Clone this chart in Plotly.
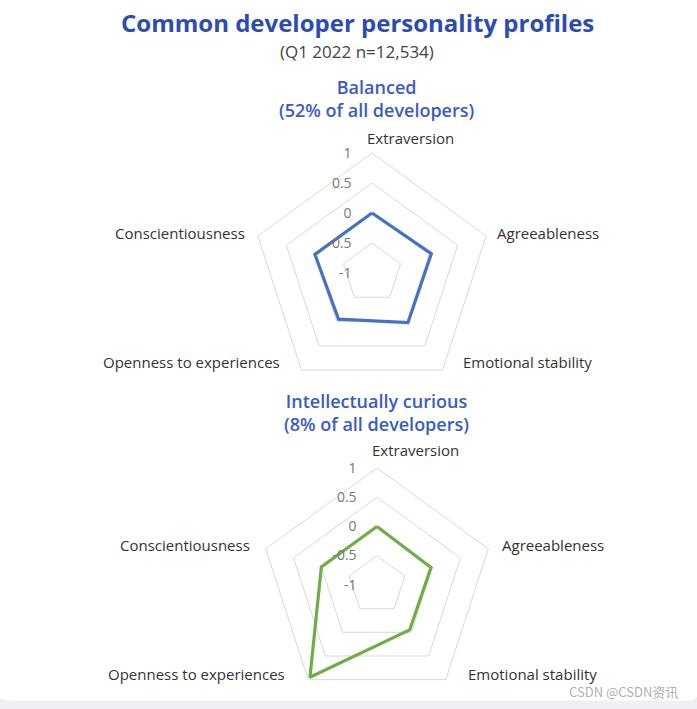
import plotly.graph_objects as go

categories = ["Extraversion", "Agreeableness", "Emotional stability",
              "Openness to experiences", "Conscientiousness"]
balanced = [0.0, 0.04, 0.02, -0.05, 0.0]
curious = [0.0, -0.03, -0.05, 0.95, 0.0]
radial_ticks = [-1, -0.5, 0, 0.5, 1]
radial_ticktext = ["-1", "-0.5", "0", "0.5", "1"]

W, H = 697, 709
FONT = "Open Sans"

fig = go.Figure()
fig.add_trace(go.Scatterpolar(
    r=balanced + balanced[:1], theta=categories + categories[:1],
    mode="lines", line=dict(color="#4472C4", width=3.2),
    subplot="polar", showlegend=False, hoverinfo="skip"))
fig.add_trace(go.Scatterpolar(
    r=curious + curious[:1], theta=categories + categories[:1],
    mode="lines", line=dict(color="#70AD47", width=3.2),
    subplot="polar2", showlegend=False, hoverinfo="skip"))


def polar_cfg(cx, cy, R):
    return dict(
        domain=dict(x=[(cx - R) / W, (cx + R) / W],
                    y=[(H - cy - R) / H, (H - cy + R) / H]),
        bgcolor="rgba(0,0,0,0)",
        gridshape="linear",
        radialaxis=dict(range=[-1, 1], tickvals=radial_ticks, ticktext=radial_ticktext,
                        angle=90, tickangle=90, side="counterclockwise",
                        showline=False, ticks="outside", ticklen=15,
                        tickcolor="rgba(0,0,0,0)",
                        gridcolor="#d9d9d9", gridwidth=1,
                        tickfont=dict(family=FONT, size=14, color="#7a7570")),
        angularaxis=dict(direction="clockwise", rotation=90, showgrid=False,
                         showline=True, linecolor="#d9d9d9", linewidth=1, ticks="",
                         showticklabels=False,
                         categoryorder="array", categoryarray=categories),
    )


# label placement relative to each radar's centre (pixels): dx, dy, anchor
label_offsets = [(-7, -135, "left"), (123, -40, "left"), (89, 89, "left"),
                 (-90, 89, "right"), (-125, -40, "right")]

annotations = [
    dict(text="<b>Common developer personality profiles</b>", x=357 / W, y=1 - 23 / H,
         xref="paper", yref="paper", showarrow=False, xanchor="center", yanchor="middle",
         font=dict(family=FONT, size=24, color="#2B4BB5")),
    dict(text="(Q1 2022 n=12,534)", x=357 / W, y=1 - 51 / H,
         xref="paper", yref="paper", showarrow=False, xanchor="center", yanchor="middle",
         font=dict(family=FONT, size=17, color="#444444")),
    dict(text="Balanced<br>(52% of all developers)", x=376 / W, y=1 - 98.5 / H,
         xref="paper", yref="paper", showarrow=False, xanchor="center", yanchor="middle",
         font=dict(family=FONT, size=18, color="#3A5BC7", weight=600)),
    dict(text="Intellectually curious<br>(8% of all developers)", x=376 / W, y=1 - 412.5 / H,
         xref="paper", yref="paper", showarrow=False, xanchor="center", yanchor="middle",
         font=dict(family=FONT, size=18, color="#3A5BC7", weight=600)),
    dict(text="CSDN @CSDN资讯", x=680 / W, y=1 - 691 / H,
         xref="paper", yref="paper", showarrow=False, xanchor="right", yanchor="middle",
         font=dict(family="Noto Sans CJK SC", size=13, color="#b0b0b0")),
]
for (cx, cy) in [(372, 273), (377, 585)]:
    for cat, (dx, dy, anc) in zip(categories, label_offsets):
        annotations.append(dict(
            text=cat, x=(cx + dx) / W, y=1 - (cy + dy) / H, xref="paper", yref="paper",
            showarrow=False, xanchor=anc, yanchor="middle",
            font=dict(family=FONT, size=15, color="#333333", weight=500)))

fig.update_layout(
    width=W, height=H,
    margin=dict(l=0, r=0, t=0, b=0),
    paper_bgcolor="#eef0f4", plot_bgcolor="white",
    polar=polar_cfg(372, 273, 120),
    polar2=polar_cfg(377, 585, 117),
    shapes=[dict(type="path", xref="paper", yref="paper", layer="below",
                 path="M 0 1 L 1 1 L 1 0.02 Q 1 0.012 0.99 0.012 L 0.01 0.012 Q 0 0.012 0 0.02 Z",
                 fillcolor="white", line=dict(width=0))],
    annotations=annotations,
)

fig.write_html("out.html")
